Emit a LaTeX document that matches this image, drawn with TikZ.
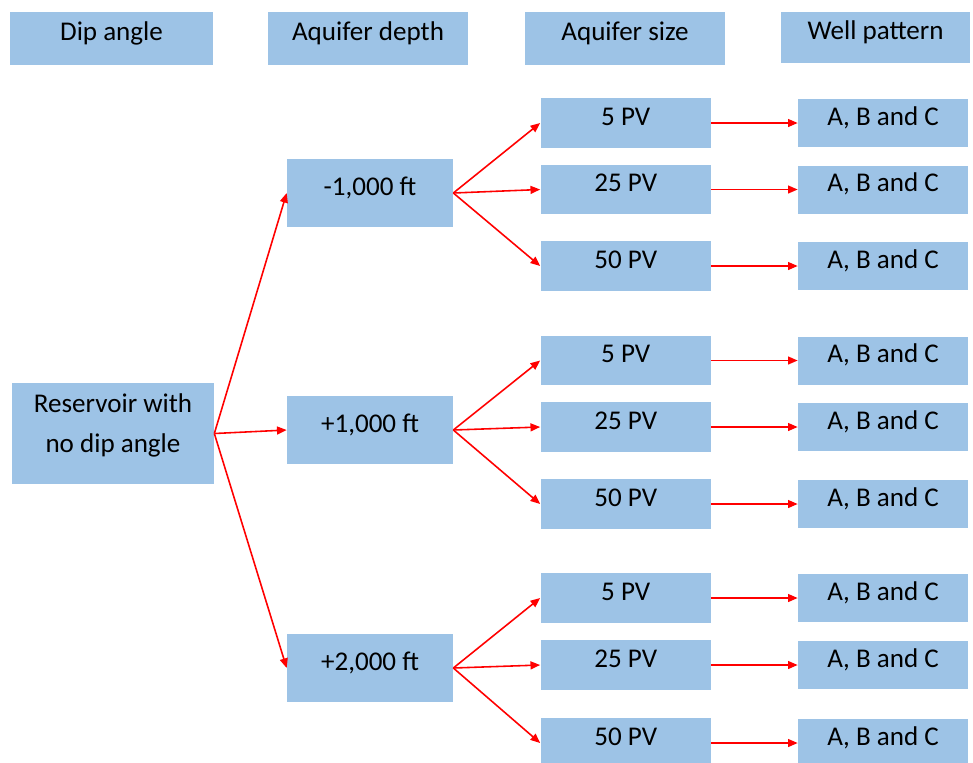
\documentclass[tikz,border=0pt]{standalone}
\usepackage{fontspec}
\setmainfont{Carlito}
\usetikzlibrary{arrows.meta}
\definecolor{boxblue}{RGB}{157,195,230}
\begin{document}
\begin{tikzpicture}[x=0.02cm, y=-0.02cm,
  box/.style = {rectangle, fill=boxblue, inner sep=0pt, font=\fontsize{15.4}{22.8}\selectfont},
  oneline/.style = {box, text height=9pt, text depth=6.7pt},
  headbox/.style = {oneline, minimum width=4cm, minimum height=1.06cm},
  depthbox/.style = {oneline, minimum width=3.32cm, minimum height=1.36cm},
  sizebox/.style = {oneline, minimum width=3.41cm, minimum height=0.99cm},
  wellbox/.style = {oneline, minimum width=3.4cm, minimum height=0.96cm},
  link/.style = {red, line width=0.9pt, -{Triangle[length=5.5pt, width=4.5pt]}}]
\useasboundingbox (0,0) rectangle (973,762);
%column headers
\node[headbox, minimum width=4.06cm] (hdip) at (111.5,38.5) {Dip angle};
\node[headbox] (hdepth) at (368,38.5) {Aquifer depth};
\node[headbox] (hsize) at (625,38.5) {Aquifer size};
\node[headbox, minimum width=3.78cm, minimum height=1.02cm] (hwell) at (875.5,37.5) {Well pattern};
%dip angle
\node[box, align=center, minimum width=4.04cm, minimum height=2.02cm, text height=26.6pt, text depth=5pt] (res) at (113,433.5) {Reservoir with\\no dip angle};
%aquifer depth
\node[depthbox] (d1) at (370,193) {-1,000 ft};
\node[depthbox] (d2) at (370,430) {+1,000 ft};
\node[depthbox] (d3) at (370,668) {+2,000 ft};
%aquifer size
\node[sizebox] (s11) at (625.75,123) {5 PV};
\node[sizebox] (s12) at (625.75,189.5) {25 PV};
\node[sizebox] (s13) at (625.75,266) {50 PV};
\node[sizebox] (s21) at (625.75,360.5) {5 PV};
\node[sizebox] (s22) at (625.75,427) {25 PV};
\node[sizebox] (s23) at (625.75,504) {50 PV};
\node[sizebox] (s31) at (625.75,598) {5 PV};
\node[sizebox] (s32) at (625.75,665) {25 PV};
\node[sizebox] (s33) at (625.75,743) {50 PV};
%well pattern
\node[wellbox] (w11) at (883,123) {A, B and C};
\node[wellbox] (w12) at (883,189.5) {A, B and C};
\node[wellbox] (w13) at (883,266) {A, B and C};
\node[wellbox] (w21) at (883,360.5) {A, B and C};
\node[wellbox] (w22) at (883,427) {A, B and C};
\node[wellbox] (w23) at (883,504) {A, B and C};
\node[wellbox] (w31) at (883,598) {A, B and C};
\node[wellbox] (w32) at (883,665) {A, B and C};
\node[wellbox] (w33) at (883,743) {A, B and C};
%dip angle to depth
\draw[link] (res.east) -- (d1.west);
\draw[link] (res.east) -- (d2.west);
\draw[link] (res.east) -- (d3.west);
%depth to size
\draw[link] (d1.east) -- (s11.west);
\draw[link] (d1.east) -- (s12.west);
\draw[link] (d1.east) -- (s13.west);
\draw[link] (d2.east) -- (s21.west);
\draw[link] (d2.east) -- (s22.west);
\draw[link] (d2.east) -- (s23.west);
\draw[link] (d3.east) -- (s31.west);
\draw[link] (d3.east) -- (s32.west);
\draw[link] (d3.east) -- (s33.west);
%size to well pattern
\draw[link] (s11.east) -- (w11.west);
\draw[link] (s12.east) -- (w12.west);
\draw[link] (s13.east) -- (w13.west);
\draw[link] (s21.east) -- (w21.west);
\draw[link] (s22.east) -- (w22.west);
\draw[link] (s23.east) -- (w23.west);
\draw[link] (s31.east) -- (w31.west);
\draw[link] (s32.east) -- (w32.west);
\draw[link] (s33.east) -- (w33.west);
\end{tikzpicture}
\end{document}
